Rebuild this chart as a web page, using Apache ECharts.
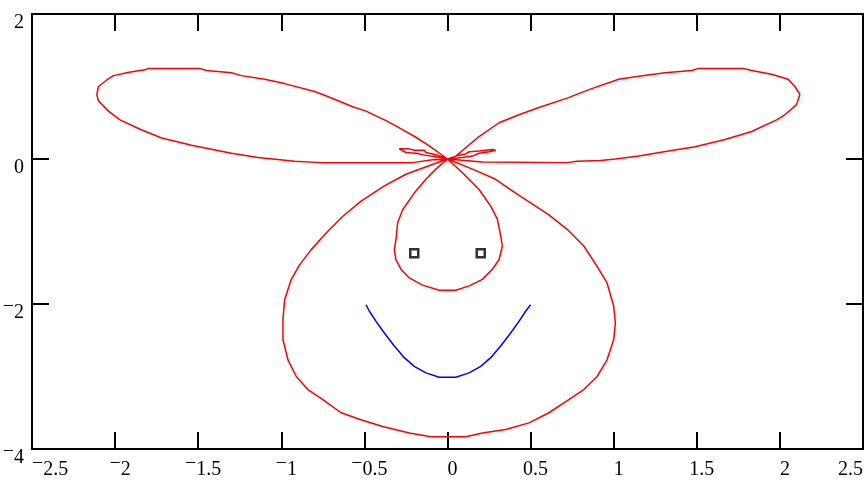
<!DOCTYPE html>
<html>
<head>
<meta charset="utf-8">
<script src="https://cdn.jsdelivr.net/npm/echarts@6/dist/echarts.min.js"></script>
<style>
  html, body { margin: 0; padding: 0; background: #fff; }
  #chart { width: 867px; height: 483px; }
</style>
</head>
<body>
<div id="chart"></div>
<script>
// Axis ranges and tick steps
const xRange = [-2.5, 2.5];
const xStep = 0.5;
const yRange = [-4, 2];
const yStep = 2;

// Red curve: ears (large lobes), small petals, inner loop and outer loop,
// all passing through the origin.
const leftEar = [
  [0, 0], [-0.11, 0.18], [-0.19, 0.30], [-0.29, 0.43], [-0.37, 0.53], [-0.49, 0.66],
  [-0.57, 0.72], [-0.74, 0.88], [-0.80, 0.93], [-0.98, 1.04], [-1.10, 1.10], [-1.24, 1.15],
  [-1.30, 1.19], [-1.45, 1.22], [-1.49, 1.25], [-1.80, 1.25], [-1.82, 1.23], [-1.88, 1.21],
  [-1.93, 1.19], [-2.01, 1.15], [-2.05, 1.09], [-2.10, 1.00], [-2.11, 0.89], [-2.10, 0.80],
  [-2.04, 0.66], [-1.97, 0.54], [-1.85, 0.41], [-1.72, 0.29], [-1.54, 0.19], [-1.30, 0.08],
  [-1.14, 0.02], [-0.92, -0.03], [-0.76, -0.05], [-0.21, -0.05], [-0.09, -0.01], [0, 0]
];
const leftPetal = [
  [0, 0], [-0.07, 0.06], [-0.13, 0.09], [-0.14, 0.12], [-0.20, 0.12], [-0.23, 0.14],
  [-0.29, 0.14], [-0.28, 0.12], [-0.25, 0.09], [-0.19, 0.08], [-0.13, 0.05], [-0.07, 0.03], [0, 0]
];
const rightPetal = [
  [0, 0], [0.05, 0.04], [0.11, 0.07], [0.13, 0.10], [0.19, 0.11], [0.27, 0.13],
  [0.29, 0.12], [0.25, 0.10], [0.19, 0.08], [0.15, 0.04], [0.09, 0.02], [0, 0]
];
const rightEar = [
  [0, 0], [0.05, 0.04], [0.19, 0.31], [0.31, 0.50], [0.43, 0.61], [0.55, 0.71],
  [0.72, 0.84], [0.855, 0.96], [1.03, 1.10], [1.15, 1.14], [1.31, 1.19], [1.47, 1.22],
  [1.51, 1.25], [1.78, 1.25], [1.83, 1.22], [1.95, 1.17], [2.05, 1.10], [2.09, 1.00],
  [2.12, 0.89], [2.10, 0.75], [2.03, 0.61], [1.98, 0.54], [1.83, 0.38], [1.67, 0.27],
  [1.49, 0.17], [1.33, 0.11], [1.15, 0.04], [1.01, 0.00], [0.92, -0.02], [0.78, -0.03],
  [0.72, -0.05], [0.21, -0.04], [0, 0]
];
const outerLoop = [
  [0, 0], [0.15, -0.14], [0.29, -0.28], [0.39, -0.44], [0.53, -0.65], [0.61, -0.77],
  [0.72, -0.97], [0.82, -1.20], [0.90, -1.48], [0.96, -1.71], [1.00, -2.03], [1.01, -2.26],
  [1.00, -2.49], [0.96, -2.77], [0.90, -3.00], [0.82, -3.18], [0.73, -3.32], [0.61, -3.50],
  [0.49, -3.64], [0.35, -3.73], [0.21, -3.78], [0.11, -3.83], [-0.10, -3.83], [-0.23, -3.78],
  [-0.39, -3.69], [-0.53, -3.59], [-0.64, -3.50], [-0.75, -3.32], [-0.84, -3.18], [-0.91, -3.00],
  [-0.96, -2.77], [-0.99, -2.49], [-0.99, -2.21], [-0.98, -1.94], [-0.94, -1.66], [-0.89, -1.46],
  [-0.82, -1.25], [-0.73, -1.02], [-0.63, -0.79], [-0.52, -0.58], [-0.38, -0.37], [-0.25, -0.21],
  [-0.12, -0.10], [0, 0]
];
const innerLoop = [
  [0, 0], [-0.07, -0.14], [-0.13, -0.28], [-0.20, -0.47], [-0.27, -0.70], [-0.30, -0.88],
  [-0.31, -1.11], [-0.32, -1.25], [-0.31, -1.39], [-0.28, -1.52], [-0.23, -1.64], [-0.15, -1.74],
  [-0.05, -1.81], [0.05, -1.81], [0.13, -1.75], [0.21, -1.66], [0.27, -1.52], [0.31, -1.39],
  [0.33, -1.20], [0.32, -1.06], [0.30, -0.83], [0.26, -0.65], [0.19, -0.42], [0.09, -0.19], [0, 0]
];

// Blue smile
const smile = [
  [-0.49, -2.01], [-0.47, -2.10], [-0.43, -2.24], [-0.38, -2.40], [-0.32, -2.58], [-0.26, -2.74],
  [-0.20, -2.86], [-0.13, -2.95], [-0.05, -3.01], [0.05, -3.01], [0.13, -2.95], [0.20, -2.86],
  [0.26, -2.74], [0.32, -2.58], [0.38, -2.40], [0.43, -2.24], [0.47, -2.10], [0.50, -2.01]
];

// Eyes (square markers)
const eyes = [[-0.20, -1.30], [0.20, -1.30]];

const redCurve = [].concat(leftEar, leftPetal, rightPetal, rightEar, outerLoop, innerLoop);

const FONT = 'Liberation Serif, Times New Roman, serif';
const FONT_SIZE = 20;

// Tick text with a raised minus sign; `lead` adds left padding to the first token
function tickText(v, lead) {
  const s = String(Math.abs(v));
  if (v < 0) return '{' + (lead ? 'mp' : 'm') + '|\u2212}{d|' + s + '}';
  return '{' + (lead ? 'dp' : 'd') + '|' + s + '}';
}

// Digits get equal top/bottom padding; the minus gets it all at the bottom,
// which lifts it by half that amount relative to the digits.
const base = { fontFamily: FONT, fontSize: FONT_SIZE, color: '#000', lineHeight: 20 };
const richStyles = {
  d: Object.assign({}, base, { padding: [6, 0, 6, 0] }),
  dp: Object.assign({}, base, { padding: [6, 0, 6, 10] }),
  m: Object.assign({}, base, { padding: [0, 0, 12, 0] }),
  mp: Object.assign({}, base, { padding: [0, 0, 12, 10] })
};

const axisLineStyle = { onZero: false, lineStyle: { color: '#000', width: 2 } };
const tickStyle = { inside: true, length: 17, lineStyle: { color: '#000', width: 2 } };

const chart = echarts.init(document.getElementById('chart'), null, { renderer: 'canvas' });
chart.setOption({
  animation: false,
  backgroundColor: '#fff',
  grid: { left: 32, right: 4, top: 14, bottom: 34, containLabel: false, outerBoundsMode: 'none' },
  xAxis: [
    {
      type: 'value', min: xRange[0], max: xRange[1], interval: xStep, position: 'bottom',
      axisLine: axisLineStyle, axisTick: tickStyle, splitLine: { show: false },
      axisLabel: {
        margin: 11,
        alignMinLabel: 'left',
        alignMaxLabel: 'right',
        formatter: function (v) {
          return tickText(v, !(v === xRange[0] || v === xRange[1]));
        },
        rich: richStyles
      }
    },
    {
      type: 'value', min: xRange[0], max: xRange[1], interval: xStep, position: 'top',
      axisLine: axisLineStyle, axisTick: tickStyle, splitLine: { show: false },
      axisLabel: { show: false }
    }
  ],
  yAxis: [
    {
      type: 'value', min: yRange[0], max: yRange[1], interval: yStep, position: 'left',
      axisLine: axisLineStyle, axisTick: tickStyle, splitLine: { show: false },
      axisLabel: {
        margin: 8,
        padding: [18, 0, 0, 0],
        formatter: function (v) { return tickText(v, false); },
        rich: richStyles
      }
    },
    {
      type: 'value', min: yRange[0], max: yRange[1], interval: yStep, position: 'right',
      axisLine: axisLineStyle, axisTick: tickStyle, splitLine: { show: false },
      axisLabel: { show: false }
    }
  ],
  series: [
    {
      type: 'line', xAxisIndex: 0, yAxisIndex: 0, data: redCurve,
      showSymbol: false, symbol: 'none', smooth: false,
      lineStyle: { color: '#ff0000', width: 1.5 }
    },
    {
      type: 'line', xAxisIndex: 0, yAxisIndex: 0, data: smile,
      showSymbol: false, symbol: 'none', smooth: false,
      lineStyle: { color: '#0000ff', width: 1.5 }
    },
    {
      type: 'scatter', xAxisIndex: 0, yAxisIndex: 0, data: eyes,
      symbol: 'rect', symbolSize: 8,
      itemStyle: { color: '#fff', borderColor: '#000', borderWidth: 2.5 }
    }
  ]
});
</script>
</body>
</html>
